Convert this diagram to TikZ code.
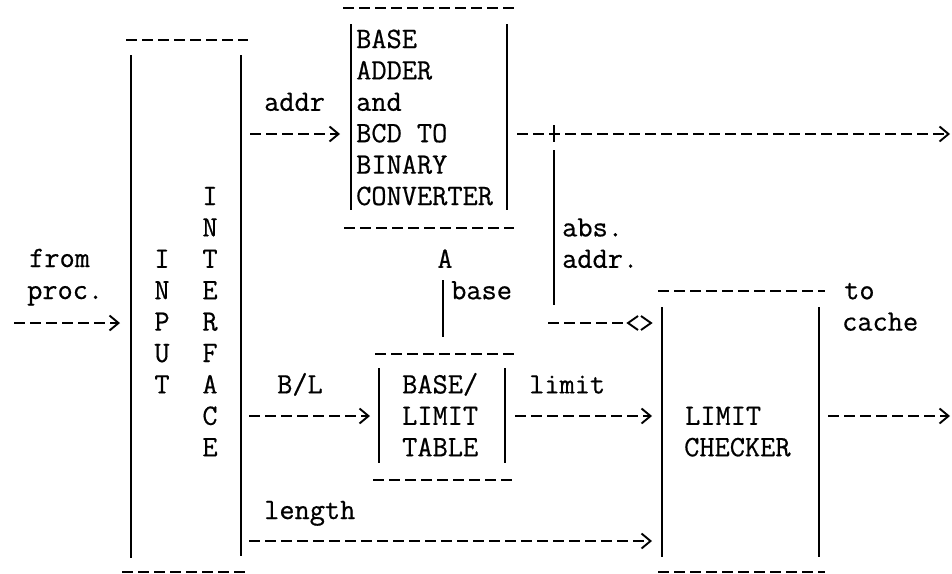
\documentclass[tikz,border=0pt]{standalone}
\usepackage{fontspec}
\setmainfont{Latin Modern Mono}[FakeBold=0.6]
\usetikzlibrary{arrows.meta}
\begin{document}
\begin{tikzpicture}[x=1pt,y=-1pt,
  txt/.style={font=\fontsize{29.5}{29.5}\selectfont, inner sep=0pt, anchor=base west},
  ctxt/.style={font=\fontsize{29.5}{29.5}\selectfont, inner sep=0pt, anchor=base},
  dashline/.style={line width=1.9pt, dash pattern=on 11pt off 5pt},
  bar/.style={line width=1.9pt},
  arr/.style={line width=1.9pt, dash pattern=on 11pt off 5pt, -{Straight Barb[length=9pt,width=15pt,line width=1.9pt]}}
]
\useasboundingbox (0,0) rectangle (952,573);

% ---------- INPUT INTERFACE box ----------
\coordinate (ifTL) at (126,40);  \coordinate (ifTR) at (248,40);
\coordinate (ifBL) at (122,572); \coordinate (ifBR) at (246,572);
\coordinate (ifL1) at (131,55);  \coordinate (ifL2) at (131,558);
\coordinate (ifR1) at (241,55);  \coordinate (ifR2) at (241,556);
\draw[dashline] (ifTL) -- (ifTR);
\draw[dashline] (ifBL) -- (ifBR);
\draw[bar] (ifL1) -- (ifL2);
\draw[bar] (ifR1) -- (ifR2);
\foreach \c/\r [count=\i] in {I/8,N/9,P/10,U/11,T/12}
  \node[ctxt] (inp\i) at (162,{48+31.4*(\r-1)}) {\c};
\foreach \c/\r [count=\i] in {I/6,N/7,T/8,E/9,R/10,F/11,A/12,C/13,E/14}
  \node[ctxt] (itf\i) at (210,{48+31.4*(\r-1)}) {\c};

% ---------- from proc. ----------
\node[txt] (from) at (29,267) {from};
\node[txt] (proc) at (27,299) {proc.};
\coordinate (procS) at (14,323); \coordinate (procE) at (120,323);
\draw[arr] (procS) -- (procE);

% ---------- BASE ADDER box ----------
\coordinate (baTL) at (343,8);  \coordinate (baTR) at (515,8);
\coordinate (baBL) at (344,228); \coordinate (baBR) at (514,228);
\draw[dashline] (baTL) -- (baTR);
\draw[dashline] (baBL) -- (baBR);
\coordinate (baL1) at (351,24); \coordinate (baL2) at (351,210);
\coordinate (baR1) at (507,24); \coordinate (baR2) at (507,210);
\draw[bar] (baL1) -- (baL2);
\draw[bar] (baR1) -- (baR2);
\node[txt] (ba1) at (356,48)    {BASE};
\node[txt] (ba2) at (356,79.4)  {ADDER};
\node[txt] (ba3) at (356,110.8) {and};
\node[txt] (ba4) at (356,142.2) {BCD TO};
\node[txt] (ba5) at (356,173.6) {BINARY};
\node[txt] (ba6) at (356,205)   {CONVERTER};

% addr arrow
\node[txt] (addrlbl) at (264,110.8) {addr};
\coordinate (addrS) at (250,134); \coordinate (addrE) at (340,134);
\draw[arr] (addrS) -- (addrE);

% output of base adder
\coordinate (outS) at (517,134); \coordinate (outE) at (950,134);
\draw[arr] (outS) -- (outE);
\coordinate (plusT) at (554,125); \coordinate (plusB) at (554,142);
\draw[bar] (plusT) -- (plusB);
\coordinate (absT) at (554,150); \coordinate (absB) at (554,305);
\draw[bar] (absT) -- (absB);
\node[txt] (abs1) at (562,236.4) {abs.};
\node[txt] (abs2) at (562,267.8) {addr.};

% the ----<> into limit checker
\coordinate (ltS) at (548,323); \coordinate (ltE) at (624,323);
\draw[dashline] (ltS) -- (ltE);
\coordinate (ltA) at (628,323); \coordinate (ltB) at (641,323);
\draw[bar, line join=miter] ([shift={(10,-7)}]ltA) -- (ltA) -- ([shift={(10,7)}]ltA);
\draw[bar, line join=miter] ([shift={(0,-7)}]ltB) -- ([shift={(10,0)}]ltB) -- ([shift={(0,7)}]ltB);

% ---------- base link ----------
\node[ctxt] (caret) at (445,267.8) {A};
\coordinate (bsT) at (443,280); \coordinate (bsB) at (443,337);
\draw[bar] (bsT) -- (bsB);
\node[txt] (baselbl) at (451,299.2) {base};

% ---------- BASE/LIMIT TABLE box ----------
\coordinate (btTL) at (375,354); \coordinate (btTR) at (514,354);
\coordinate (btBL) at (373,480); \coordinate (btBR) at (512,480);
\draw[dashline] (btTL) -- (btTR);
\draw[dashline] (btBL) -- (btBR);
\coordinate (btL1) at (379,368); \coordinate (btL2) at (379,463);
\coordinate (btR1) at (505,368); \coordinate (btR2) at (505,463);
\draw[bar] (btL1) -- (btL2);
\draw[bar] (btR1) -- (btR2);
\node[txt] (bt1) at (402,393.4) {BASE/};
\node[txt] (bt2) at (402,424.8) {LIMIT};
\node[txt] (bt3) at (402,456.2) {TABLE};

\node[txt] (bllbl) at (277,393.4) {B/L};
\coordinate (blS) at (249,416); \coordinate (blE) at (370,416);
\draw[arr] (blS) -- (blE);

\node[txt] (limlbl) at (529,393.4) {limit};
\coordinate (limS) at (515,416); \coordinate (limE) at (652,416);
\draw[arr] (limS) -- (limE);

\node[txt] (lenlbl) at (264,519) {length};
\coordinate (lenS) at (249,541); \coordinate (lenE) at (652,541);
\draw[arr] (lenS) -- (lenE);

% ---------- LIMIT CHECKER box ----------
\coordinate (lcTL) at (658,291); \coordinate (lcTR) at (825,291);
\coordinate (lcBL) at (658,572); \coordinate (lcBR) at (825,572);
\draw[dashline] (lcTL) -- (lcTR);
\draw[dashline] (lcBL) -- (lcBR);
\coordinate (lcL1) at (662,307); \coordinate (lcL2) at (662,557);
\coordinate (lcR1) at (819,307); \coordinate (lcR2) at (819,557);
\draw[bar] (lcL1) -- (lcL2);
\draw[bar] (lcR1) -- (lcR2);
\node[txt] (lc1) at (685,424.8) {LIMIT};
\node[txt] (lc2) at (684,456.2) {CHECKER};

\node[txt] (tolbl) at (844,299.2) {to};
\node[txt] (cachelbl) at (842,330.6) {cache};
\coordinate (cS) at (828,416); \coordinate (cE) at (950,416);
\draw[arr] (cS) -- (cE);
\end{tikzpicture}
\end{document}
